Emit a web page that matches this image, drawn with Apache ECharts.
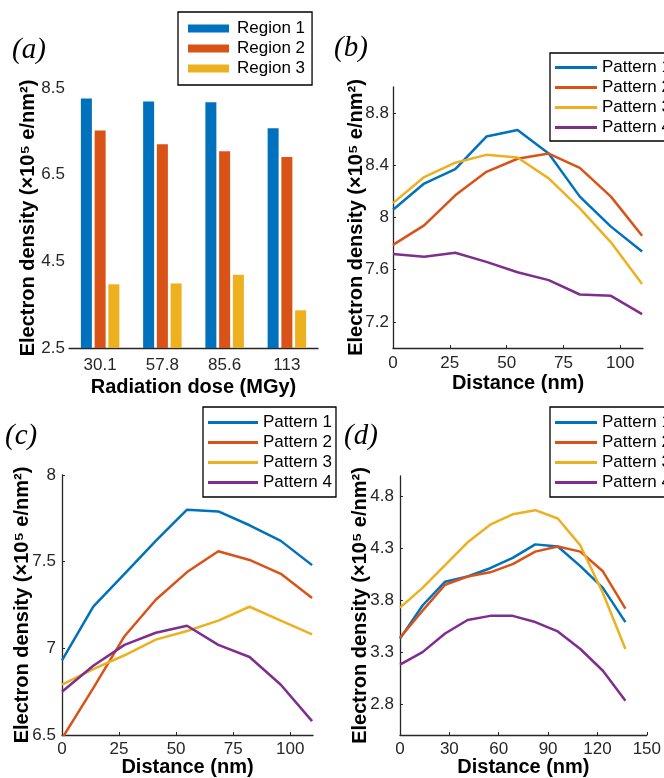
<!DOCTYPE html>
<html lang="en">
  <head>
    <meta charset="UTF-8" />
    <title>Electron density</title>
    <script src="https://cdn.jsdelivr.net/npm/echarts@6.0.0/dist/echarts.min.js"></script>
  </head>
  <body style="margin: 0">
    <div id="main" style="width: 664px; height: 778px"></div>
    <script type="text/javascript">
      // (a) bars
      const doses = ["30.1", "57.8", "85.6", "113"];
      const region1 = [8.26, 8.19, 8.17, 7.57];
      const region2 = [7.52, 7.2, 7.04, 6.91];
      const region3 = [3.97, 3.99, 4.19, 3.37];

      // (b) and (c) share the same distances
      const distBC = [0, 13.7, 27.4, 41.1, 54.8, 68.5, 82.2, 95.9, 109.6];
      const b1 = [8.06, 8.26, 8.37, 8.62, 8.67, 8.49, 8.16, 7.93, 7.74];
      const b2 = [7.79, 7.94, 8.17, 8.35, 8.45, 8.49, 8.38, 8.16, 7.86];
      const b3 = [8.11, 8.31, 8.42, 8.48, 8.46, 8.3, 8.07, 7.81, 7.49];
      const b4 = [7.72, 7.7, 7.73, 7.66, 7.58, 7.52, 7.41, 7.4, 7.26];

      const c1 = [6.93, 7.24, 7.43, 7.62, 7.8, 7.79, 7.71, 7.62, 7.48];
      const c2 = [6.48, 6.77, 7.07, 7.28, 7.44, 7.56, 7.51, 7.43, 7.29];
      const c3 = [6.79, 6.88, 6.96, 7.05, 7.1, 7.16, 7.24, 7.16, 7.08];
      const c4 = [6.75, 6.9, 7.02, 7.09, 7.13, 7.02, 6.95, 6.79, 6.58];

      // (d)
      const distD = [0, 13.7, 27.4, 41.1, 54.8, 68.5, 82.2, 95.9, 109.6, 123.3, 137];
      const d1 = [3.43, 3.75, 3.98, 4.03, 4.11, 4.21, 4.34, 4.32, 4.13, 3.92, 3.59];
      const d2 = [3.44, 3.7, 3.95, 4.03, 4.07, 4.15, 4.27, 4.32, 4.27, 4.08, 3.72];
      const d3 = [3.73, 3.92, 4.14, 4.36, 4.53, 4.63, 4.67, 4.59, 4.33, 3.87, 3.33];
      const d4 = [3.18, 3.3, 3.48, 3.61, 3.65, 3.65, 3.59, 3.5, 3.33, 3.12, 2.83];

      const ticksA = [2.5, 4.5, 6.5, 8.5];
      const ticksB = [7.2, 7.6, 8, 8.4, 8.8];
      const ticksD = [2.8, 3.3, 3.8, 4.3, 4.8];
      const ticksX = [0, 25, 50, 75, 100];

      const colors = ["#0072BD", "#D95319", "#EDB120", "#7E2F8E"];
      const font = "Liberation Sans";
      const yName = "Electron density (×10⁵ e/nm²)";

      function pairs(xs, ys) {
        return xs.map((x, i) => [x, ys[i]]);
      }

      function axisBase(gridIndex) {
        return {
          gridIndex: gridIndex,
          axisLine: { lineStyle: { color: "#262626", width: 1.3 } },
          axisTick: { inside: true, length: 3, lineStyle: { color: "#262626" } },
          axisLabel: { fontFamily: font, fontSize: 17, color: "#262626" },
          splitLine: { show: false },
          nameLocation: "middle",
          nameMoveOverlap: false,
          nameTextStyle: { fontFamily: font, fontSize: 20, fontWeight: "bold", color: "#000" },
        };
      }

      function legendBase(left, top, w, names, pad) {
        return {
          left: left,
          top: top,
          orient: "vertical",
          data: names,
          icon: "rect",
          itemWidth: w,
          itemHeight: 3,
          itemGap: 3,
          padding: pad,
          borderColor: "#000",
          borderWidth: 1.3,
          textStyle: { fontFamily: font, fontSize: 17, color: "#000" },
        };
      }

      const patterns = ["Pattern 1", "Pattern 2", "Pattern 3", "Pattern 4"];

      function lineSeries(gi, xs, sets) {
        return sets.map((ys, k) => ({
          name: patterns[k],
          type: "line",
          xAxisIndex: gi,
          yAxisIndex: gi,
          data: pairs(xs, ys),
          symbol: "none",
          lineStyle: { width: 2.5, color: colors[k] },
          itemStyle: { color: colors[k] },
        }));
      }

      const myChart = echarts.init(document.getElementById("main"));

      const option = {
        animation: false,
        grid: [
          { left: 69, top: 88, width: 249, height: 260 },
          { left: 393, top: 87, width: 250, height: 261 },
          { left: 62, top: 475, width: 251, height: 262 },
          { left: 400, top: 476, width: 249, height: 261 },
        ],
        legend: [
          Object.assign(legendBase(178, 12, 41, ["Region 1", "Region 2", "Region 3"], [8, 7, 8, 10]), {
            itemHeight: 8,
            textStyle: { fontFamily: font, fontSize: 17, color: "#000", padding: [0, 0, 0, 3] },
          }),
          legendBase(550, 53, 42, patterns, [6, 12, 5, 5]),
          legendBase(203, 407, 50, patterns, [7, 4, 6, 5]),
          legendBase(550, 407, 42, patterns, [7, 12, 6, 5]),
        ],
        xAxis: [
          Object.assign(axisBase(0), {
            type: "category",
            data: doses,
            name: "Radiation dose (MGy)",
            nameGap: 29,
            axisTick: { show: false },
            axisLabel: { fontFamily: font, fontSize: 17, color: "#262626", margin: 9 },
          }),
          Object.assign(axisBase(1), {
            type: "value",
            min: 0,
            max: 110,
            name: "Distance (nm)",
            nameGap: 25,
            axisTick: { inside: true, length: 3, customValues: ticksX, lineStyle: { color: "#262626" } },
            axisLabel: { fontFamily: font, fontSize: 17, color: "#262626", margin: 7, customValues: ticksX },
          }),
          Object.assign(axisBase(2), {
            type: "value",
            min: 0,
            max: 110,
            name: "Distance (nm)",
            nameGap: 22,
            axisTick: { inside: true, length: 3, customValues: ticksX, lineStyle: { color: "#262626" } },
            axisLabel: { fontFamily: font, fontSize: 17, color: "#262626", margin: 6, customValues: ticksX },
          }),
          Object.assign(axisBase(3), {
            type: "value",
            min: 0,
            max: 150,
            interval: 30,
            name: "Distance (nm)",
            nameGap: 22,
            axisLabel: { fontFamily: font, fontSize: 17, color: "#262626", margin: 6 },
          }),
        ],
        yAxis: [
          Object.assign(axisBase(0), {
            type: "value",
            min: 2.5,
            max: 8.5,
            name: yName,
            nameGap: 31,
            axisTick: { inside: true, length: 3, customValues: ticksA, lineStyle: { color: "#262626" } },
            axisLabel: { fontFamily: font, fontSize: 17, color: "#262626", margin: 4, customValues: ticksA },
          }),
          Object.assign(axisBase(1), {
            type: "value",
            min: 7,
            max: 9,
            name: yName,
            nameGap: 27,
            axisTick: { inside: true, length: 3, customValues: ticksB, lineStyle: { color: "#262626" } },
            axisLabel: { fontFamily: font, fontSize: 17, color: "#262626", margin: 4, customValues: ticksB },
          }),
          Object.assign(axisBase(2), {
            type: "value",
            min: 6.5,
            max: 8,
            interval: 0.5,
            name: yName,
            nameGap: 30,
            axisLabel: { fontFamily: font, fontSize: 17, color: "#262626", margin: 6 },
          }),
          Object.assign(axisBase(3), {
            type: "value",
            min: 2.5,
            max: 5,
            name: yName,
            nameGap: 30,
            axisTick: { inside: true, length: 3, customValues: ticksD, lineStyle: { color: "#262626" } },
            axisLabel: { fontFamily: font, fontSize: 17, color: "#262626", margin: 6, customValues: ticksD },
          }),
        ],
        series: [
          { name: "Region 1", type: "bar", data: region1, barWidth: 11, barGap: "25%", itemStyle: { color: colors[0] } },
          { name: "Region 2", type: "bar", data: region2, barWidth: 11, barGap: "25%", itemStyle: { color: colors[1] } },
          { name: "Region 3", type: "bar", data: region3, barWidth: 11, barGap: "25%", itemStyle: { color: colors[2] } },
        ]
          .concat(lineSeries(1, distBC, [b1, b2, b3, b4]))
          .concat(lineSeries(2, distBC, [c1, c2, c3, c4]))
          .concat(lineSeries(3, distD, [d1, d2, d3, d4])),
        graphic: [
          { type: "text", left: 12, top: 36, style: { text: "(a)", font: "italic 29px 'Liberation Serif'", fill: "#000" } },
          { type: "text", left: 334, top: 34, style: { text: "(b)", font: "italic 29px 'Liberation Serif'", fill: "#000" } },
          { type: "text", left: 5, top: 422, style: { text: "(c)", font: "italic 29px 'Liberation Serif'", fill: "#000" } },
          { type: "text", left: 344, top: 422, style: { text: "(d)", font: "italic 29px 'Liberation Serif'", fill: "#000" } },
        ],
      };
      myChart.setOption(option);
    </script>
  </body>
</html>
